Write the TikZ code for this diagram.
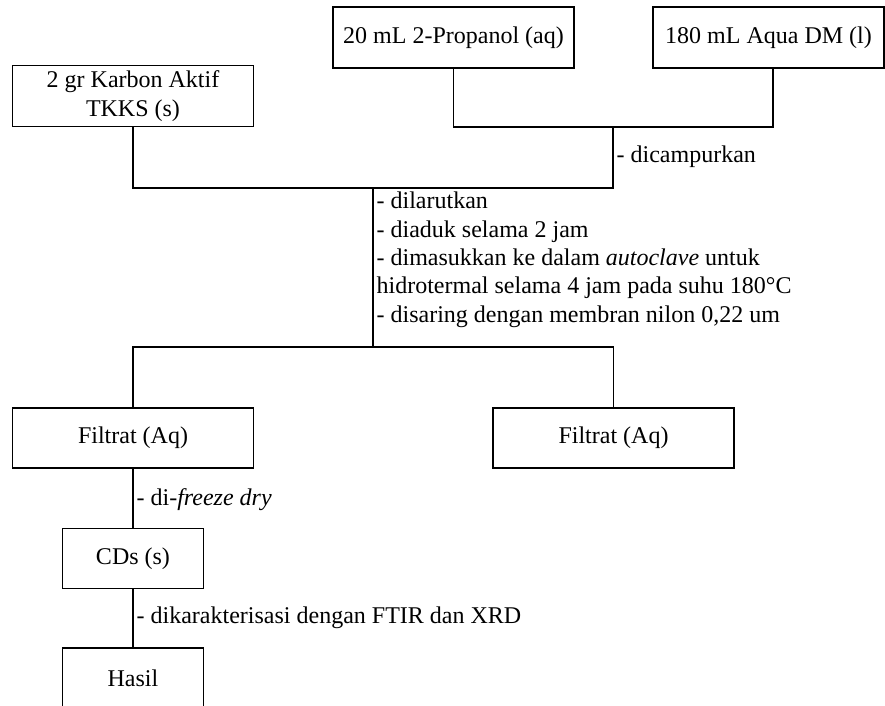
\documentclass[tikz,border=0pt]{standalone}
\usepackage{fontspec}
\setmainfont{Liberation Serif}

\begin{document}
\begin{tikzpicture}[x=0.5pt, y=-0.5pt, line width=0.65pt,
  font=\fontsize{12}{14.15}\selectfont,
  box/.style={draw, line width=0.65pt, inner sep=0pt, align=center,
    minimum width=120.5pt, minimum height=30.5pt},
  smallbox/.style={box, minimum width=70.5pt, minimum height=30pt},
  note/.style={anchor=base west, inner sep=0pt, align=left}]

\useasboundingbox (0,0) rectangle (885,706);

% starting materials
\node[box] (karbon) at (133,96) {2 gr Karbon Aktif\\TKKS (s)};
\node[box] (propanol) at (453.5,37.5) {20 mL 2-Propanol (aq)};
\node[box, minimum width=115.5pt] (aqua) at (768.5,37.5) {180 mL Aqua DM (l)};

% products
\node[box, minimum height=30pt] (filtratA) at (133,438) {Filtrat (Aq)};
\node[box, minimum height=30pt] (filtratB) at (613.5,438) {Filtrat (Aq)};
\node[smallbox] (cds) at (133,558.5) {CDs (s)};
\node[smallbox] (hasil) at (133,678) {Hasil};

% lines
\coordinate (mix) at (613,127);
\coordinate (join) at (373,188);
\coordinate (split) at (373,347);

\draw (propanol.south) |- (mix) -| ([xshift=2.25pt]aqua.south);
\draw (mix) |- (join);
\draw (karbon.south) |- (join);
\draw (join) -- (split);
\draw (filtratA.north) |- (split) -| (filtratB.north);
\draw (filtratA.south) -- (cds.north);
\draw (cds.south) -- (hasil.north);

% labels (base of the process block is its last line)
\node[note] (campur) at (616,163) {- dicampurkan};
\node[note] (proses) at (376,322) {- dilarutkan\\
  - diaduk selama 2 jam\\
  - dimasukkan ke dalam \textit{autoclave} untuk\\
  hidrotermal selama 4 jam pada suhu 180°C\\
  - disaring dengan membran nilon 0,22 um};
\node[note] (freeze) at (136,505) {- di-\textit{freeze dry}};
\node[note] (karakter) at (136,623) {- dikarakterisasi dengan FTIR dan XRD};

\end{tikzpicture}
\end{document}
